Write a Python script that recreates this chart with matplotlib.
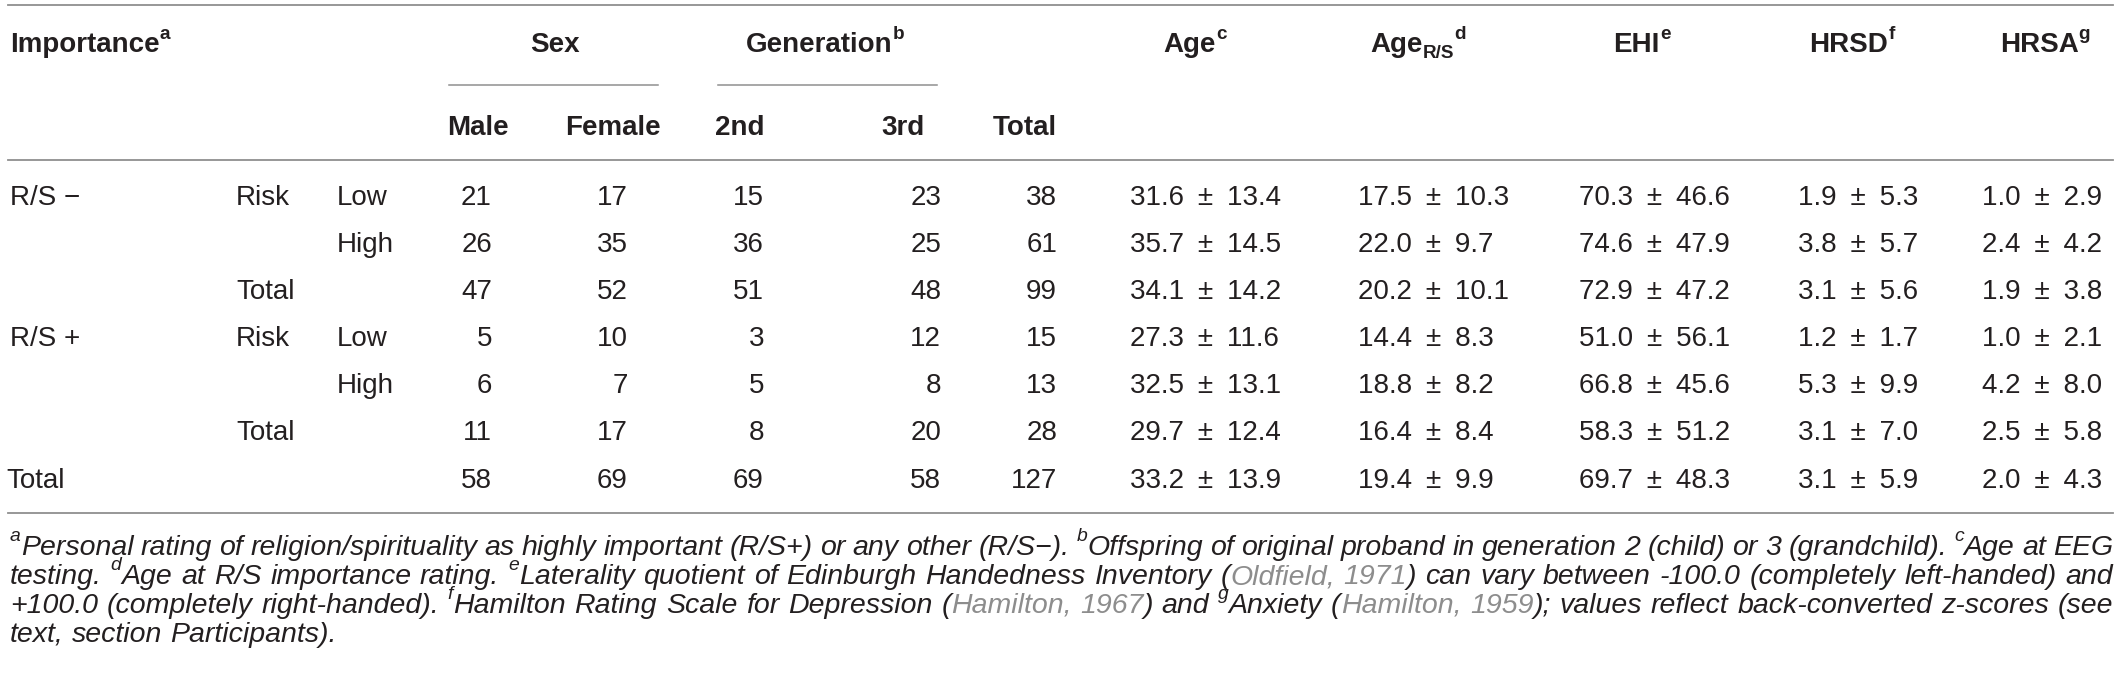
import matplotlib
matplotlib.use('Agg')
import matplotlib.pyplot as plt

plt.rcParams['font.family'] = ['Liberation Sans', 'DejaVu Sans']

# ---- table data ----
importance = ['R/S \u2212', '', '', 'R/S +', '', '', 'Total']
risk_label = ['Risk', '', 'Total', 'Risk', '', 'Total', '']
risk_level = ['Low', 'High', '', 'Low', 'High', '', '']
male = [21, 26, 47, 5, 6, 11, 58]
female = [17, 35, 52, 10, 7, 17, 69]
gen2 = [15, 36, 51, 3, 5, 8, 69]
gen3 = [23, 25, 48, 12, 8, 20, 58]
total = [38, 61, 99, 15, 13, 28, 127]
age_mean = [31.6, 35.7, 34.1, 27.3, 32.5, 29.7, 33.2]
age_sd = [13.4, 14.5, 14.2, 11.6, 13.1, 12.4, 13.9]
agers_mean = [17.5, 22.0, 20.2, 14.4, 18.8, 16.4, 19.4]
agers_sd = [10.3, 9.7, 10.1, 8.3, 8.2, 8.4, 9.9]
ehi_mean = [70.3, 74.6, 72.9, 51.0, 66.8, 58.3, 69.7]
ehi_sd = [46.6, 47.9, 47.2, 56.1, 45.6, 51.2, 48.3]
hrsd_mean = [1.9, 3.8, 3.1, 1.2, 5.3, 3.1, 3.1]
hrsd_sd = [5.3, 5.7, 5.6, 1.7, 9.9, 7.0, 5.9]
hrsa_mean = [1.0, 2.4, 1.9, 1.0, 4.2, 2.5, 2.0]
hrsa_sd = [2.9, 4.2, 3.8, 2.1, 8.0, 5.8, 4.3]

# footnote: ^x = superscript letter, [ ... ] = grey citation
footnotes = [
    "^aPersonal rating of religion/spirituality as highly important (R/S+) or any other (R/S\u2212). "
    "^bOffspring of original proband in generation 2 (child) or 3 (grandchild). ^cAge at EEG",
    "testing. ^dAge at R/S importance rating. ^eLaterality quotient of Edinburgh Handedness "
    "Inventory ([Oldfield, 1971]) can vary between -100.0 (completely left-handed) and",
    "+100.0 (completely right-handed). ^fHamilton Rating Scale for Depression ([Hamilton, 1967]) "
    "and ^gAnxiety ([Hamilton, 1959]); values reflect back-converted z-scores (see",
    "text, section Participants).",
]

W, H = 2122, 680
fig = plt.figure(figsize=(W / 100, H / 100), dpi=100)
ax = fig.add_axes([0, 0, 1, 1])
ax.set_xlim(0, W)
ax.set_ylim(H, 0)
ax.axis('off')
renderer = fig.canvas.get_renderer()
PX = 100 / 72

TXT = '#231f20'
GREY = '#8d8d8d'
RULE = '#8f8f8f'
FS = 20
FN = 20.5


def draw_pieces(x, y, pieces, ha='left', size=FS, **kw):
    """pieces: list of (text, kind) with kind in n / sup / sub / grey"""
    arts, widths = [], []
    for txt, kind in pieces:
        fs = size * 0.68 if kind in ('sup', 'sub') else size
        dy = {'sup': -size * 0.48, 'sub': size * 0.22}.get(kind, 0) * PX
        col = GREY if kind == 'grey' else TXT
        t = ax.text(0, y + dy, txt, fontsize=fs, color=col, va='baseline', ha='left', **kw)
        arts.append(t)
        widths.append(t.get_window_extent(renderer).width)
    tot = sum(widths)
    if ha == 'center':
        x -= tot / 2
    elif ha == 'right':
        x -= tot
    for t, w in zip(arts, widths):
        t.set_x(x)
        x += w
    return tot


def parse_line(line):
    words, grey = [], False
    for w in line.split(' '):
        pieces, buf, i = [], '', 0
        while i < len(w):
            ch = w[i]
            if ch in '[]' or ch == '^':
                if buf:
                    pieces.append((buf, 'grey' if grey else 'n'))
                    buf = ''
                if ch == '^':
                    pieces.append((w[i + 1], 'sup'))
                    i += 1
                else:
                    grey = ch == '['
            else:
                buf += ch
            i += 1
        if buf:
            pieces.append((buf, 'grey' if grey else 'n'))
        words.append(pieces)
    return words


# ---- rules ----
ax.plot([8, 2113], [5, 5], color=RULE, lw=1.3)
ax.plot([8, 2113], [160, 160], color=RULE, lw=1.3)
ax.plot([8, 2113], [513, 513], color=RULE, lw=1.3)
ax.plot([449, 658], [85, 85], color=RULE, lw=1.1)
ax.plot([718, 937], [85, 85], color=RULE, lw=1.1)

# ---- headers ----
b = dict(fontweight='bold')
h1, h2 = 52, 135
draw_pieces(10, h1, [('Importance', 'n'), ('a', 'sup')], **b)
draw_pieces(555, h1, [('Sex', 'n')], ha='center', **b)
draw_pieces(825, h1, [('Generation', 'n'), ('b', 'sup')], ha='center', **b)
draw_pieces(1195, h1, [('Age', 'n'), ('c', 'sup')], ha='center', **b)
draw_pieces(1418, h1, [('Age', 'n'), ('R/S', 'sub'), ('d', 'sup')], ha='center', **b)
draw_pieces(1642, h1, [('EHI', 'n'), ('e', 'sup')], ha='center', **b)
draw_pieces(1852, h1, [('HRSD', 'n'), ('f', 'sup')], ha='center', **b)
draw_pieces(2045, h1, [('HRSA', 'n'), ('g', 'sup')], ha='center', **b)

draw_pieces(478, h2, [('Male', 'n')], ha='center', **b)
draw_pieces(613, h2, [('Female', 'n')], ha='center', **b)
draw_pieces(764, h2, [('2nd', 'n')], ha='right', **b)
draw_pieces(925, h2, [('3rd', 'n')], ha='right', **b)
draw_pieces(1057, h2, [('Total', 'n')], ha='right', **b)

# ---- body ----
count_cols = [(male, 492), (female, 628), (gen2, 764), (gen3, 941), (total, 1057)]
stat_cols = [(age_mean, age_sd, 1130), (agers_mean, agers_sd, 1358), (ehi_mean, ehi_sd, 1579),
             (hrsd_mean, hrsd_sd, 1798), (hrsa_mean, hrsa_sd, 1982)]

for i in range(len(male)):
    yb = 195 + 47.1 * i + 10
    ax.text(10 if importance[i] != 'Total' else 6, yb, importance[i], fontsize=FS, color=TXT, va='baseline')
    ax.text(236, yb, risk_label[i], fontsize=FS, color=TXT, va='baseline')
    ax.text(337, yb, risk_level[i], fontsize=FS, color=TXT, va='baseline')
    for vals, xr in count_cols:
        ax.text(xr, yb, str(vals[i]), fontsize=FS, color=TXT, va='baseline', ha='right')
    for m, s, xl in stat_cols:
        ax.text(xl, yb, f'{m[i]:.1f}\u2002\u00b1\u2002{s[i]:.1f}', fontsize=FS, color=TXT, va='baseline')

# ---- footnotes (justified) ----
fn_kw = dict(fontstyle='italic')
x0, x1 = 10, 2113
for k, line in enumerate(footnotes):
    yb = 555 + 29 * k
    words = parse_line(line)
    ws = [draw_pieces(0, yb, p, size=FN, **fn_kw) for p in words]
    # drop the measuring texts, then redraw at justified spots
    n_new = sum(len(p) for p in words)
    for t in ax.texts[-n_new:]:
        t.remove()
    if k < len(footnotes) - 1:
        gap = (x1 - x0 - sum(ws)) / (len(words) - 1)
    else:
        gap = FN * PX * 0.278
    x = x0
    for p, w in zip(words, ws):
        draw_pieces(x, yb, p, size=FN, **fn_kw)
        x += w + gap

fig.savefig('out.png', dpi=100)
